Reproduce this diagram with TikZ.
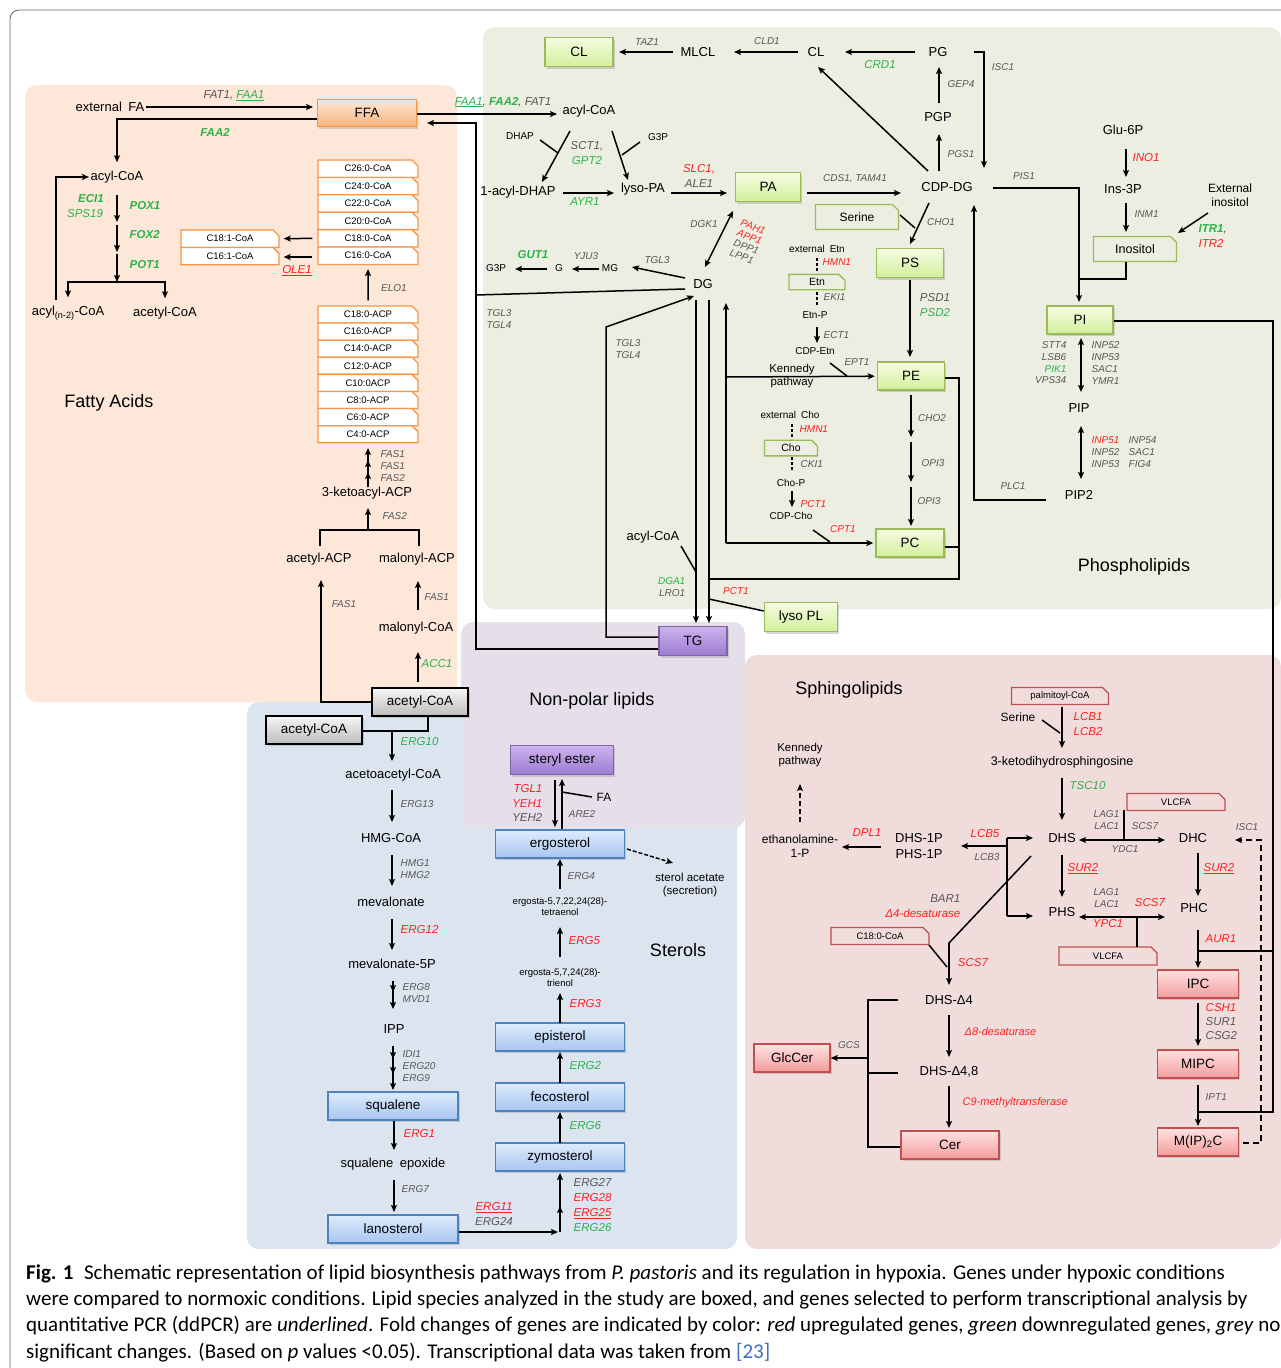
\documentclass[tikz,border=0pt]{standalone}
\usepackage{fontspec}
\setmainfont{Liberation Sans}
\newfontfamily\capfont{Carlito}
\usepackage{tikz}
\usetikzlibrary{arrows.meta, shapes.misc, shadows, positioning}

\definecolor{gup}{HTML}{FF2020}
\definecolor{gdn}{HTML}{2DB34A}
\definecolor{gns}{HTML}{575757}
\definecolor{bgfa}{HTML}{FCE7D8}
\definecolor{bgpl}{HTML}{EBEEE0}
\definecolor{bgnp}{HTML}{E5DFEA}
\definecolor{bgst}{HTML}{DCE4EF}
\definecolor{bgsi}{HTML}{F1DCDC}
\definecolor{pbord}{HTML}{9BBB59}
\definecolor{ptop}{HTML}{F5FCE2}
\definecolor{pbot}{HTML}{D2EF9C}
\definecolor{fbord}{HTML}{F79646}
\definecolor{ftop}{HTML}{FDE8D6}
\definecolor{fbot}{HTML}{F9B27A}
\definecolor{nbord}{HTML}{8064A2}
\definecolor{ntop}{HTML}{CDB3EE}
\definecolor{nbot}{HTML}{9B7BD2}
\definecolor{sbord}{HTML}{4F81BD}
\definecolor{stp}{HTML}{DEEBFD}
\definecolor{sbot}{HTML}{A7C5F1}
\definecolor{kbord}{HTML}{C0504D}
\definecolor{ktop}{HTML}{FFE2E2}
\definecolor{kbot}{HTML}{F39B9B}
\definecolor{atp}{HTML}{F6F6F6}
\definecolor{abot}{HTML}{BDBDBD}
\definecolor{reflink}{HTML}{3B6FC4}

\begin{document}
\begin{tikzpicture}[x=1pt, y=-1pt]
\tikzstyle{met}=[font=\fontsize{13}{15}\selectfont, inner sep=1.5pt, align=center]
\tikzstyle{sm}=[font=\fontsize{10}{11.5}\selectfont, inner sep=1pt, align=center]
\tikzstyle{ttl}=[font=\fontsize{18}{20}\selectfont, inner sep=0pt]
\tikzstyle{gene}=[font=\fontsize{10}{11.7}\selectfont\itshape, text=gns, inner sep=0.5pt]
\tikzstyle{Gene}=[font=\fontsize{11.5}{15}\selectfont\itshape, text=gns, inner sep=0.5pt]
\tikzstyle{bGene}=[font=\fontsize{11.5}{15}\selectfont\bfseries\itshape, text=gdn, inner sep=0.5pt]
\tikzstyle{box}=[draw, line width=1.4pt, inner sep=1pt, font=\fontsize{13.5}{15}\selectfont, drop shadow={shadow xshift=1.5pt, shadow yshift=-2pt, opacity=0.3}]
\tikzstyle{pbox}=[box, draw=pbord, top color=ptop, bottom color=pbot]
\tikzstyle{fbox}=[box, draw=fbord, top color=ftop, bottom color=fbot]
\tikzstyle{nbox}=[box, draw=nbord, top color=ntop, bottom color=nbot]
\tikzstyle{sbox}=[box, draw=sbord, top color=stp, bottom color=sbot]
\tikzstyle{kbox}=[box, draw=kbord, top color=ktop, bottom color=kbot]
\tikzstyle{abox}=[box, draw=black, top color=atp, bottom color=abot]
\tikzstyle{tab}=[chamfered rectangle, chamfered rectangle corners=north east, chamfered rectangle xsep=3pt, chamfered rectangle ysep=3pt, line width=1.3pt, inner sep=1pt, font=\fontsize{9.5}{10}\selectfont]
\tikzstyle{ftab}=[tab, draw=fbord, fill=white]
\tikzstyle{ptab}=[tab, draw=pbord]
\tikzstyle{ktab}=[tab, draw=kbord]
\tikzstyle{arr}=[line width=1.5pt, -{Stealth[length=7pt, width=6pt, inset=1.5pt]}]
\tikzstyle{arr2}=[line width=1.5pt, {Stealth[length=7pt, width=6pt, inset=1.5pt]}-{Stealth[length=7pt, width=6pt, inset=1.5pt]}]
\tikzstyle{ln}=[line width=1.5pt]
\tikzstyle{dsh}=[line width=1.5pt, dash pattern=on 3pt off 2pt]
\tikzstyle{captxt}=[anchor=base west, inner sep=0pt, font=\capfont\fontsize{21}{26}\selectfont]

\useasboundingbox (0,0) rectangle (1281,1368);
\fill[white] (0,0) rectangle (1281,1368);

% regions
\draw[black!60, line width=0.8pt, rounded corners=9] (10,1370) -- (10,10) -- (1290,10);
\fill[bgsi, rounded corners=12] (745,655) rectangle (1281,1249);
\fill[bgst, rounded corners=12] (247,702) rectangle (737,1249);
\fill[bgnp, rounded corners=12] (461,622) rectangle (745,828);
\fill[bgfa, rounded corners=12] (25,85) rectangle (457,702);
\fill[bgpl, rounded corners=12] (483,27) rectangle (1281,609);

% ---------------- fatty acids
\node[ttl] (tFA) at (109,403) {Fatty Acids};
\node[met] (extFA) at (110,107) {external\enspace FA};
\node[fbox, minimum width=99, minimum height=27] (FFA) at (367,113) {FFA};
\node[Gene] (gFAT1) at (234,96) {FAT1, \textcolor{gdn}{\underline{FAA1}}};
\node[bGene] (gFAA2) at (215,132) {FAA2};
\draw[arr] (extFA) -- (313,107);
\node[met] (acyl) at (117,177) {acyl-CoA};
\draw[arr] ([yshift=-6]FFA.west) -| ([yshift=7]acyl.north);
\node[bGene] (gECI) at (91,199) {ECI1};
\node[Gene, text=gdn] (gSPS) at (85,214) {SPS19};
\node[bGene, anchor=west] (gPOX) at (129,206) {POX1};
\node[bGene, anchor=west] (gFOX) at (129,235) {FOX2};
\node[bGene, anchor=west] (gPOT) at (129,265) {POT1};
\coordinate (bo) at (117,282);
\draw[arr] (117,195) -- (117,222);
\draw[arr] (117,225) -- (117,252);
\draw[arr] (117,254) -- (bo);
\node[met] (acyln) at (68,313) {acyl\textsubscript{(n-2)}-CoA};
\node[met] (acet) at (165,313) {acetyl-CoA};
\draw[arr] (bo) -| ([yshift=7]acyln.north);
\draw[arr] (bo) -| ([yshift=7]acet.north);
\draw[arr] (56,300) |- (acyl);

\foreach \lbl [count=\i] in {C26:0-CoA,C24:0-CoA,C22:0-CoA,C20:0-CoA,C18:0-CoA,C16:0-CoA}
  \node[ftab, minimum width=100, minimum height=17.4] (coa\i) at (368,151.3+17.4*\i) {\lbl};
\foreach \lbl [count=\i] in {C18:0-ACP,C16:0-ACP,C14:0-ACP,C12:0-ACP,C10:0ACP,C8:0-ACP,C6:0-ACP,C4:0-ACP}
  \node[ftab, minimum width=100, minimum height=17.1] (acp\i) at (368,297.4+17.1*\i) {\lbl};
\node[ftab, minimum width=98, minimum height=17.4] (c181) at (230,238.7) {C18:1-CoA};
\node[ftab, minimum width=98, minimum height=17.4] (c161) at (230,256.1) {C16:1-CoA};
\draw[arr, shorten <=5, shorten >=4] (coa5) -- (c181);
\draw[arr, shorten <=5, shorten >=4] (coa6.west |- 0,257) -- (c161.east |- 0,257);
\node[Gene, text=gup] (gOLE) at (297,271) {\underline{OLE1}};
\draw[arr, shorten <=5, shorten >=4] (acp1) -- (coa6);
\node[gene] (gELO) at (394,288) {ELO1};
\node[met] (keto) at (367,493) {3-ketoacyl-ACP};
\foreach \yy in {448,460,472} \draw[arr] (368,487) -- (368,\yy);
\node[gene, anchor=west, align=left] (gFAS) at (380,466) {FAS1\\FAS1\\FAS2};
\node[met] (acACP) at (319,559) {acetyl-ACP};
\node[met] (malACP) at (417,559) {malonyl-ACP};
\draw[ln] (320,546) |- (419,530) -- (419,546);
\draw[arr] (368,530) -- (368,508);
\node[gene, anchor=west] (gFAS2) at (382,516) {FAS2};
\node[met] (malCoA) at (416,628) {malonyl-CoA};
\draw[arr] (418,610) -- (418,581);
\node[gene, anchor=west] (gFAS1b) at (424,597) {FAS1};
\draw[arr] (418,682) -- (418,652);
\node[Gene, text=gdn, anchor=west] (gACC) at (421,664) {ACC1};
\node[abox, minimum width=96, minimum height=28] (acCoA1) at (420,702) {acetyl-CoA};
\draw[arr] (acCoA1.west) -| (321,580);
\node[gene] (gFAS1c) at (344,604) {FAS1};

% ---------------- phospholipids
\node[ttl] (tPL) at (1134,567) {Phospholipids};
\node[pbox, minimum width=68, minimum height=29] (CLb) at (579,52) {CL};
\node[met] (MLCL) at (698,52) {MLCL};
\node[met] (CL) at (816,52) {CL};
\node[met] (PG) at (938,52) {PG};
\node[met] (PGP) at (938,117) {PGP};
\node[met] (CDPDG) at (947,187) {CDP-DG};
\draw[arr] (673,52) -- (619,52);
\draw[arr] (798,52) -- (734,52);
\draw[arr] (915,52) -- (845,52);
\node[gene] (gTAZ) at (647,42) {TAZ1};
\node[gene] (gCLD) at (767,41) {CLD1};
\node[Gene, text=gdn] (gCRD) at (880,65) {CRD1};
\draw[arr] (939,103) -- (939,67);
\draw[arr] (939,171) -- (939,134);
\node[gene] (gGEP) at (961,84) {GEP4};
\node[gene] (gPGS) at (961,154) {PGS1};
\draw[arr] (974,52) -| (984,168);
\node[gene] (gISC) at (1003,67) {ISC1};
\draw[arr] (928,171) -- (818,67);

\node[met] (acyl2) at (589,111) {acyl-CoA};
\draw[arr] (FFA.east |- 0,114) -- (557,114);
\node[Gene] (gFAA) at (503,102) {\textcolor{gdn}{\underline{FAA1}}, \textcolor{gdn}{\bfseries FAA2}, FAT1};
\node[sm] (DHAP) at (520,136) {DHAP};
\node[sm] (G3Pa) at (658,137) {G3P};
\node[met] (aDHAP) at (518,192) {1-acyl-DHAP};
\node[met] (lysoPA) at (643,189) {lyso-PA};
\draw[arr] (570,131) -- (542,182);
\draw[ln] (540,140) -- (558,153);
\draw[arr] (612,131) -- (628,180);
\draw[ln] (640,142) -- (622,155);
\node[Gene, align=center] (gSCT) at (587,153) {SCT1,\\\textcolor{gdn}{GPT2}};
\draw[arr] (563,193) -- (614,193);
\node[Gene, text=gdn] (gAYR) at (585,202) {AYR1};
\draw[arr] (671,193) -- (727,193);
\node[Gene, align=center] (gSLC) at (699,176) {\textcolor{gup}{SLC1,}\\ALE1};
\node[pbox, minimum width=65, minimum height=29] (PA) at (768,187) {PA};
\draw[arr] (807,193) -- (901,193);
\node[gene] (gCDS) at (855,179) {CDS1, TAM41};
\node[ptab, minimum width=83, minimum height=25, font=\fontsize{12}{13}\selectfont] (Ser) at (857,217) {Serine};
\draw[arr] (929,203) -- (910,244);
\draw[ln] (900,215) -- (915,228);
\node[gene] (gCHO1) at (941,222) {CHO1};
\node[pbox, minimum width=67, minimum height=29] (PS) at (910,263) {PS};
\draw[arr] (910,280) -- (910,357);
\node[Gene, align=center] (gPSD) at (935,305) {PSD1\\\textcolor{gdn}{PSD2}};
\node[pbox, minimum width=67, minimum height=28] (PE) at (911,376) {PE};
\draw[arr] (911,395) -- (911,437);
\draw[arr] (911,442) -- (911,482);
\draw[arr] (911,487) -- (911,526);
\node[gene] (gCHO2) at (932,418) {CHO2};
\node[gene] (gOPI1) at (933,463) {OPI3};
\node[gene] (gOPI2) at (929,501) {OPI3};
\node[pbox, minimum width=68, minimum height=28] (PC) at (910,543) {PC};
\draw[ln] (PE.east |- 0,378) -| (959,579) -- (709,579);
\draw[ln] (PC.east |- 0,547) -- (959,547);

\node[met] (DG) at (703,284) {DG};
\draw[arr2] (733,211) -- (705,267);
\node[gene] (gDGK) at (704,224) {DGK1};
\node[gene, rotate=-20, align=left, font=\fontsize{10}{10.5}\selectfont\itshape] (gPAH) at (748,242) {\textcolor{gup}{PAH1}\\\textcolor{gup}{APP1}\\DPP1\\LPP1};
\node[sm] (MG) at (610,268) {MG};
\node[sm] (Gly) at (559,268) {G};
\node[sm] (G3Pb) at (496,268) {G3P};
\draw[arr] (685,278) -- (632,267);
\draw[arr] (599,269) -- (572,269);
\draw[arr] (547,269) -- (515,269);
\node[gene] (gTGL3a) at (657,260) {TGL3};
\node[gene] (gYJU) at (586,256) {YJU3};
\node[bGene] (gGUT) at (533,255) {GUT1};
\draw[ln] (685,289) -- (476,295);
\node[gene, align=left] (gTGLa) at (499,319) {TGL3\\TGL4};
\node[nbox, minimum width=68, minimum height=29] (TG) at (693,641) {TG};
\draw[arr] ([yshift=-8]TG.west) -| (476,123) -- (427,123);
\draw[arr] ([yshift=4]TG.west) -| (606,327) -- (694,296);
\node[gene, align=left] (gTGLb) at (628,349) {TGL3\\TGL4};
\draw[arr] (696,300) -- (696,623);
\draw[arr] (709,300) -- (709,623);
\draw[arr] (726,543) -- (726,303);
\draw[arr, shorten >=2] (726,377) -- (PE);
\draw[arr, shorten >=2] (726,543) -- (PC);
\node[font=\fontsize{11.5}{13.5}\selectfont, align=center] (kenA) at (792,376) {Kennedy\\pathway};
\node[met] (acyl3) at (653,537) {acyl-CoA};
\draw[ln] (681,546) -- (696,572);
\node[gene, align=right, anchor=east] (gDGA) at (686,587) {\textcolor{gdn}{DGA1}\\LRO1};
\node[pbox, minimum width=73, minimum height=29] (lysoPL) at (801,617) {lyso PL};
\draw[ln] ([yshift=6]lysoPL.west) -- (709,599);
\node[gene, text=gup] (gPCT) at (736,591) {PCT1};

\node[sm] (extEtn) at (817,249) {external\enspace Etn};
\node[ptab, minimum width=56, minimum height=15, font=\fontsize{10.5}{11}\selectfont] (Etn) at (817,282) {Etn};
\node[sm] (EtnP) at (815,315) {Etn-P};
\node[sm] (CDPEtn) at (815,351) {CDP-Etn};
\draw[dsh] (817,258) -- (817,272);
\draw[dsh] (817,292) -- (817,305);
\draw[arr] (817,327) -- (817,343);
\node[gene, text=gup, anchor=west] (gHMN1) at (822,262) {HMN1};
\node[gene, anchor=west] (gEKI) at (823,297) {EKI1};
\node[gene, anchor=west] (gECT) at (823,335) {ECT1};
\draw[ln] (830,363) -- (847,376);
\node[gene] (gEPT) at (857,362) {EPT1};

\node[sm] (extCho) at (790,415) {external\enspace Cho};
\node[ptab, minimum width=53, minimum height=15, font=\fontsize{10.5}{11}\selectfont] (Cho) at (791,448) {Cho};
\node[sm] (ChoP) at (791,483) {Cho-P};
\node[sm] (CDPCho) at (791,516) {CDP-Cho};
\draw[dsh] (792,424) -- (792,439);
\draw[dsh] (792,457) -- (792,471);
\draw[arr] (792,491) -- (792,507);
\node[gene, text=gup, anchor=west] (gHMN2) at (799,429) {HMN1};
\node[gene, anchor=west] (gCKI) at (800,464) {CKI1};
\node[gene, text=gup, anchor=west] (gPCT2) at (800,504) {PCT1};
\draw[ln] (813,530) -- (830,542);
\node[gene, text=gup] (gCPT) at (843,529) {CPT1};

\node[met] (Glu) at (1123,130) {Glu-6P};
\node[met] (Ins3P) at (1123,189) {Ins-3P};
\draw[arr] (1126,149) -- (1126,177);
\node[Gene, text=gup, anchor=west] (gINO) at (1132,158) {INO1};
\draw[arr] (1126,203) -- (1126,232);
\node[gene, anchor=west] (gINM) at (1134,214) {INM1};
\node[ptab, minimum width=83, minimum height=25, font=\fontsize{12.5}{13}\selectfont] (Inos) at (1135,249) {Inositol};
\node[font=\fontsize{12}{14}\selectfont, align=center] (extIno) at (1230,195) {External\\inositol};
\draw[arr] (1208,213) -- (1178,233);
\node[Gene, anchor=west, align=left] (gITR) at (1198,236) {\textcolor{gdn}{\bfseries ITR1}, \\\textcolor{gup}{ITR2}};
\node[pbox, minimum width=66, minimum height=28] (PI) at (1080,320) {PI};
\draw[arr] (993,188) -| (1079,302);
\node[gene] (gPIS) at (1024,176) {PIS1};
\draw[ln] (1126,262) |- (1078,279);
\draw[arr2] (1081,338) -- (1081,392);
\node[gene, align=right, anchor=east] (gSTT) at (1067,363) {STT4\\LSB6\\\textcolor{gdn}{PIK1}\\VPS34};
\node[gene, align=left, anchor=west] (gINPa) at (1091,363) {INP52\\INP53\\SAC1\\YMR1};
\node[met] (PIP) at (1079,408) {PIP};
\draw[arr2] (1081,426) -- (1081,479);
\node[gene, align=left, anchor=west] (gINPb) at (1091,452) {\textcolor{gup}{INP51}\\INP52\\INP53};
\node[gene, align=left, anchor=west] (gINPc) at (1128,452) {INP54\\SAC1\\FIG4};
\node[met] (PIP2) at (1079,495) {PIP2};
\draw[arr] (1046,500) -| (974,205);
\node[gene] (gPLC) at (1013,486) {PLC1};
\draw[ln] (PI.east |- 0,321) -| (1273,1112) -- (1199,1112);
\draw[ln] (1273,951) -- (1199,951);

% ---------------- non-polar lipids
\node[ttl] (tNP) at (592,701) {Non-polar lipids};
\node[nbox, minimum width=103, minimum height=29] (SE) at (562,760) {steryl ester};
\draw[arr] (555,780) -- (555,827);
\draw[arr] (562,829) -- (562,779);
\draw[ln] (562,792) -- (592,797);
\node[font=\fontsize{12}{13}\selectfont] (FA) at (604,797) {FA};
\node[Gene, align=right, anchor=east, font=\fontsize{11.5}{14.2}\selectfont\itshape] (gTGL1) at (543,803) {\textcolor{gup}{TGL1}\\\textcolor{gup}{YEH1}\\YEH2};
\node[gene] (gARE) at (582,814) {ARE2};

% ---------------- sterols
\node[ttl] (tST) at (678,950) {Sterols};
\node[abox, minimum width=96, minimum height=28] (acCoA2) at (314,730) {acetyl-CoA};
\draw[ln] (428,716) |- (acCoA2.east |- 0,731);
\draw[arr] (392,731) -- (392,761);
\node[Gene, text=gdn, anchor=west] (gERG10) at (400,742) {ERG10};
\node[met] (acac) at (393,775) {acetoacetyl-CoA};
\draw[arr] (392,790) -- (392,822);
\node[gene, anchor=west] (gERG13) at (400,804) {ERG13};
\node[met] (HMG) at (391,838) {HMG-CoA};
\draw[arr] (392,855) -- (392,886);
\node[gene, anchor=west, align=left] (gHMG) at (400,869) {HMG1\\HMG2};
\node[met] (meva) at (391,902) {mevalonate};
\draw[arr] (392,919) -- (392,950);
\node[Gene, text=gup, anchor=west] (gERG12) at (400,930) {ERG12};
\node[met] (meva5) at (392,964) {mevalonate-5P};
\draw[arr] (393,981) -- (393,992);
\draw[arr] (393,981) -- (393,1009);
\node[gene, anchor=west, align=left] (gERG8) at (402,993) {ERG8\\MVD1};
\node[met] (IPP) at (394,1029) {IPP};
\foreach \yy in {1059,1074,1090} \draw[arr] (393,1046) -- (393,\yy);
\node[gene, anchor=west, align=left] (gIDI) at (402,1066) {IDI1\\ERG20\\ERG9};
\node[sbox, minimum width=130, minimum height=28] (squa) at (393,1106) {squalene};
\draw[arr] (394,1121) -- (394,1150);
\node[Gene, text=gup, anchor=west] (gERG1) at (403,1134) {ERG1};
\node[met] (sqep) at (393,1164) {squalene\enspace epoxide};
\draw[arr] (394,1180) -- (394,1212);
\node[gene, anchor=west] (gERG7) at (401,1189) {ERG7};
\node[sbox, minimum width=130, minimum height=28] (lano) at (393,1229) {lanosterol};
\draw[arr] (lano.east |- 0,1232) -- (558,1232);
\node[Gene, align=center] (gERG11) at (494,1214) {\textcolor{gup}{\underline{ERG11}}\\ERG24};
\draw[ln] (560,1232) -- (560,1200);
\draw[arr] (560,1215) -- (560,1206);
\draw[arr] (560,1200) -- (560,1173);
\node[Gene, anchor=west, align=left] (gERG27) at (573,1205) {ERG27\\\textcolor{gup}{ERG28}\\\textcolor{gup}{\underline{ERG25}}\\\textcolor{gdn}{ERG26}};
\node[sbox, minimum width=129, minimum height=28] (zymo) at (560,1157) {zymosterol};
\draw[arr] (560,1143) -- (560,1112);
\node[Gene, text=gdn, anchor=west] (gERG6) at (569,1126) {ERG6};
\node[sbox, minimum width=129, minimum height=28] (feco) at (560,1097) {fecosterol};
\draw[arr] (560,1083) -- (560,1052);
\node[Gene, text=gdn, anchor=west] (gERG2) at (569,1066) {ERG2};
\node[sbox, minimum width=129, minimum height=28] (epi) at (560,1037) {episterol};
\draw[arr] (560,1023) -- (560,993);
\node[Gene, text=gup, anchor=west] (gERG3) at (569,1004) {ERG3};
\node[font=\fontsize{9.5}{11}\selectfont, align=center] (trien) at (560,978) {ergosta-5,7,24(28)-\\trienol};
\draw[arr] (560,957) -- (560,927);
\node[Gene, text=gup, anchor=west] (gERG5) at (568,941) {ERG5};
\node[font=\fontsize{9.5}{11}\selectfont, align=center] (tetra) at (560,907) {ergosta-5,7,22,24(28)-\\tetraenol};
\draw[arr] (560,889) -- (560,859);
\node[gene, anchor=west] (gERG4) at (567,876) {ERG4};
\node[sbox, minimum width=129, minimum height=28] (ergo) at (560,844) {ergosterol};
\draw[arr, dash pattern=on 4pt off 2pt] (627,849) -- (673,863);
\node[font=\fontsize{11.5}{13}\selectfont, align=center] (stac) at (690,885) {sterol acetate\\(secretion)};

% ---------------- sphingolipids
\node[ttl] (tSP) at (849,690) {Sphingolipids};
\node[ktab, minimum width=97, minimum height=17] (palm) at (1060,696) {palmitoyl-CoA};
\node[font=\fontsize{12}{13}\selectfont] (Ser2) at (1018,717) {Serine};
\draw[arr] (1062,707) -- (1062,748);
\draw[ln] (1042,720) -- (1060,733);
\node[Gene, text=gup, anchor=west, align=left] (gLCB) at (1073,724) {LCB1\\LCB2};
\node[font=\fontsize{12.5}{14}\selectfont] (kds) at (1062,762) {3-ketodihydrosphingosine};
\draw[arr] (1062,778) -- (1062,820);
\node[Gene, text=gdn, anchor=west] (gTSC) at (1069,786) {TSC10};
\node[met] (DHS) at (1062,838) {DHS};
\node[met] (DHC) at (1193,838) {DHC};
\node[met] (PHS) at (1062,912) {PHS};
\node[met] (PHC) at (1194,908) {PHC};
\draw[arr2] (1079,840) -- (1165,840);
\node[ktab, minimum width=98, minimum height=17] (vl1) at (1176,802) {VLCFA};
\draw[ln] (1124,810) -- (1124,840);
\node[gene, align=right, anchor=east] (gLAGa) at (1120,820) {LAG1\\LAC1};
\node[gene] (gSCSa) at (1145,826) {SCS7};
\node[gene] (gYDC) at (1125,849) {YDC1};
\draw[arr] (1062,855) -- (1062,897);
\node[Gene, text=gup, anchor=west] (gSUR2a) at (1067,869) {\underline{SUR2}};
\draw[arr2] (1079,917) -- (1165,917);
\node[gene, align=right, anchor=east] (gLAGb) at (1120,898) {LAG1\\LAC1};
\node[Gene, text=gup] (gSCSb) at (1150,903) {SCS7};
\node[Gene, text=gup] (gYPC) at (1108,924) {YPC1};
\node[ktab, minimum width=98, minimum height=18] (vl2) at (1108,956) {VLCFA};
\draw[ln] (1137,917) -- (1137,947);
\draw[arr] (1198,853) -- (1198,896);
\node[Gene, text=gup, anchor=west] (gSUR2b) at (1203,869) {\underline{SUR2}};
\draw[arr] (1198,930) -- (1198,968);
\node[Gene, text=gup, anchor=west] (gAUR) at (1205,939) {AUR1};
\node[kbox, minimum width=81, minimum height=28] (IPC) at (1198,984) {IPC};
\draw[arr] (1198,1003) -- (1198,1046);
\node[Gene, anchor=west, align=left, font=\fontsize{11.5}{14}\selectfont\itshape] (gCSH) at (1205,1022) {\textcolor{gup}{CSH1}\\SUR1\\CSG2};
\node[kbox, minimum width=81, minimum height=28] (MIPC) at (1198,1064) {MIPC};
\draw[arr] (1198,1085) -- (1198,1126);
\node[gene, anchor=west] (gIPT) at (1205,1097) {IPT1};
\node[kbox, minimum width=81, minimum height=28] (MIP2C) at (1198,1142) {M(IP)\textsubscript{2}C};
\draw[arr, dash pattern=on 6pt off 4pt] (1243,1143) -| (1261,840) -- (1235,840);
\node[gene] (gISC2) at (1247,827) {ISC1};

\draw[ln] (1007,838) -- (1007,916);
\draw[arr] (1007,838) -- (1033,838);
\draw[arr] (1007,916) -- (1033,916);
\draw[arr] (1007,846) -- (961,846);
\node[Gene, text=gup] (gLCB5) at (985,834) {LCB5};
\node[gene] (gLCB3) at (987,857) {LCB3};
\node[met, font=\fontsize{13}{15.5}\selectfont] (DHS1P) at (919,846) {DHS-1P\\PHS-1P};
\draw[arr] (881,847) -- (842,847);
\node[Gene, text=gup] (gDPL) at (867,833) {DPL1};
\node[font=\fontsize{12}{13.5}\selectfont, align=center] (ethP) at (800,846) {ethanolamine-\\1-P};
\draw[arr, dash pattern=on 5pt off 3pt] (800,822) -- (800,784);
\node[font=\fontsize{11.5}{13.5}\selectfont, align=center] (kenB) at (800,755) {Kennedy\\pathway};
\draw[ln] (1031,856) -- (949,943);
\draw[arr] (949,943) -- (949,985);
\node[Gene, align=right, anchor=east] (gBAR) at (961,906) {BAR1\\\textcolor{gup}{Δ4-desaturase}};
\node[ktab, minimum width=98, minimum height=17] (c180) at (880,936) {C18:0-CoA};
\draw[ln] (929,945) -- (947,967);
\node[Gene, text=gup] (gSCSc) at (973,963) {SCS7};
\node[met] (DHSd4) at (949,1000) {DHS-Δ4};
\draw[arr] (949,1015) -- (949,1057);
\node[Gene, text=gup, anchor=west, font=\fontsize{11}{13}\selectfont\itshape] (gD8) at (964,1032) {Δ8-desaturase};
\node[met] (DHSd48) at (949,1072) {DHS-Δ4,8};
\draw[arr] (949,1086) -- (949,1128);
\node[Gene, text=gup, anchor=west, font=\fontsize{11}{13}\selectfont\itshape] (gC9) at (962,1103) {C9-methyltransferase};
\node[kbox, minimum width=98, minimum height=28] (Cer) at (950,1145) {Cer};
\node[kbox, minimum width=76, minimum height=28] (GlcCer) at (792,1058) {GlcCer};
\draw[ln] (898,1000) -| (868,1147) -- (Cer.west |- 0,1147);
\draw[ln] (868,1073) -- (898,1073);
\draw[arr] (868,1058) -- (GlcCer.east |- 0,1058);
\node[gene] (gGCS) at (849,1045) {GCS};

% ---------------- caption
\node[captxt] (cap1) at (26,1279) {\textbf{Fig. 1}\enspace Schematic representation of lipid biosynthesis pathways from \textit{P. pastoris} and its regulation in hypoxia. Genes under hypoxic conditions};
\node[captxt] (cap2) at (26,1305) {were compared to normoxic conditions. Lipid species analyzed in the study are boxed, and genes selected to perform transcriptional analysis by};
\node[captxt] (cap3) at (26,1331) {quantitative PCR (ddPCR) are \textit{underlined}. Fold changes of genes are indicated by color: \textit{red} upregulated genes, \textit{green} downregulated genes, \textit{grey} no};
\node[captxt] (cap4) at (26,1358) {significant changes. (Based on \textit{p} values <0.05). Transcriptional data was taken from \textcolor{reflink}{[23]}};
\end{tikzpicture}
\end{document}
